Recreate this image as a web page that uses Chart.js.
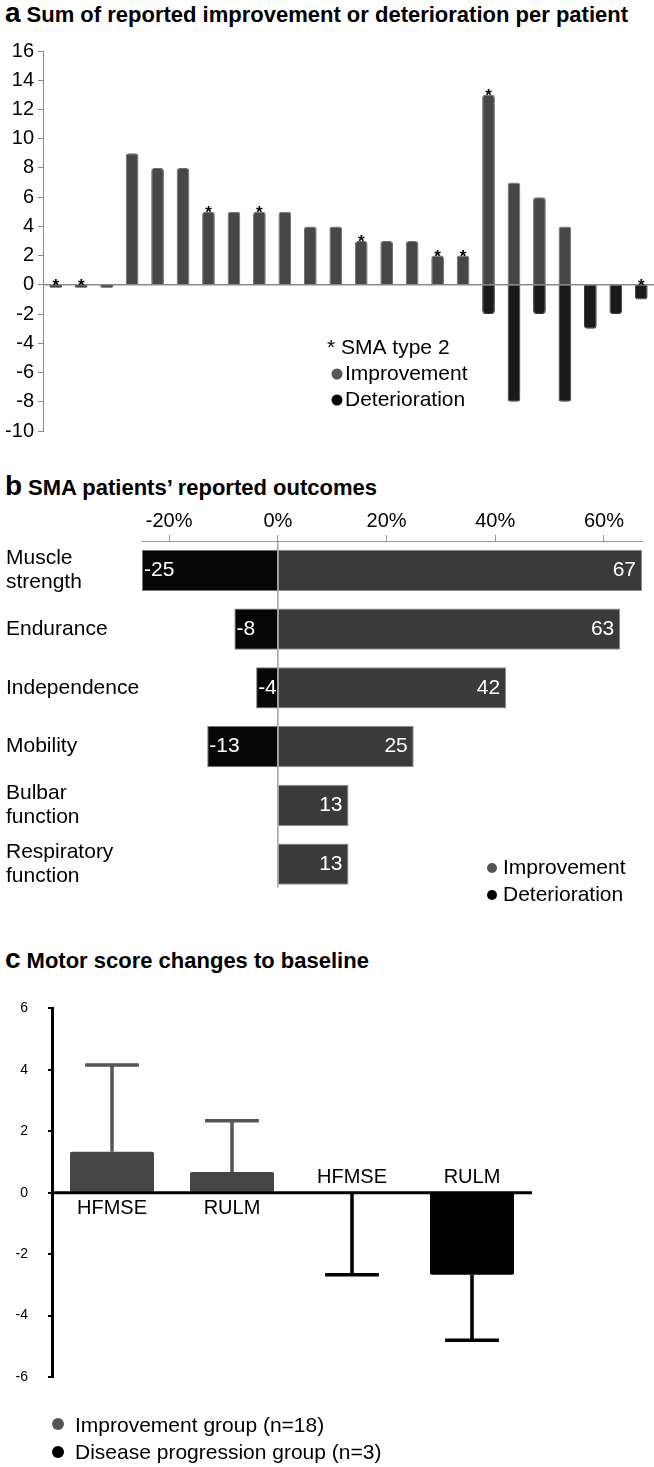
<!DOCTYPE html>
<html>
<head>
<meta charset="utf-8">
<script src="https://cdn.jsdelivr.net/npm/chart.js@4.4.1/dist/chart.umd.min.js"></script>
<style>
body { margin: 0; background: #fff; width: 654px; height: 1467px; position: relative; overflow: hidden;
       font-family: "Liberation Sans", Arial, sans-serif; }
.ttl { position: absolute; left: 5px; font-weight: bold; font-size: 22px; line-height: 26px; color: #000; white-space: nowrap; }
.ttl b { font-size: 28px; margin-right: 6px; }
canvas { position: absolute; left: 0; }
</style>
</head>
<body>
<div class="ttl" style="top:0px"><b>a</b>Sum of reported improvement or deterioration per patient</div>
<canvas id="chartA" width="654" height="430" style="top:30px"></canvas>
<div class="ttl" style="top:473px"><b>b</b>SMA patients’ reported outcomes</div>
<canvas id="chartB" width="654" height="420" style="top:500px"></canvas>
<div class="ttl" style="top:946px"><b>c</b>Motor score changes to baseline</div>
<canvas id="chartC" width="654" height="487" style="top:980px"></canvas>

<script>
// ---- panel a: per patient sums
var patientIds = ['1', '2', '3', '4', '5', '6', '7', '8', '9', '10', '11', '12',
                  '13', '14', '15', '16', '17', '18', '19', '20', '21', '22', '23', '24'];
var improvementSum = [0, 0, 0, 9, 8, 8, 5, 5, 5, 5, 4, 4, 3, 3, 3, 2, 2, 13, 7, 6, 4, 0, 0, 0];
var deteriorationSum = [-0.2, -0.2, -0.2, 0, 0, 0, 0, 0, 0, 0, 0, 0, 0, 0, 0, 0, 0, -2, -8, -2, -8, -3, -2, -1];
var smaType2 = [1, 1, 0, 0, 0, 0, 1, 0, 1, 0, 0, 0, 1, 0, 0, 1, 1, 1, 0, 0, 0, 0, 0, 1];

// ---- panel b: reported outcomes (%)
var outcomeLabels = [['Muscle', 'strength'], 'Endurance', 'Independence', 'Mobility',
                     ['Bulbar', 'function'], ['Respiratory', 'function']];
var improvementPct = [67, 63, 42, 25, 13, 13];
var deteriorationPct = [-25, -8, -4, -13, 0, 0];
var pctTicks = [-20, 0, 20, 40, 60];

// ---- panel c: motor scores
var motorLabels = ['HFMSE', 'RULM', 'HFMSE', 'RULM'];
var improvementMean = [1.33, 0.67, null, null];
var improvementSD = [2.83, 1.67, null, null];
var progressionMean = [null, null, 0, -2.67];
var progressionSD = [null, null, 2.67, 2.13];

var FONT = '"Liberation Sans", Arial, sans-serif';
Chart.defaults.font.family = FONT;
Chart.defaults.color = '#000';

function dot(ctx, x, y, r, color) {
  ctx.beginPath();
  ctx.arc(x, y, r, 0, Math.PI * 2);
  ctx.fillStyle = color;
  ctx.fill();
}

// panel a plugins
var zeroLineA = {
  id: 'zeroLineA',
  beforeDatasetsDraw: function (chart) {
    var ctx = chart.ctx, a = chart.chartArea, y = chart.scales.y.getPixelForValue(0);
    ctx.save();
    ctx.strokeStyle = '#8a8a8a';
    ctx.lineWidth = 1.5;
    ctx.beginPath();
    ctx.moveTo(a.left, y);
    ctx.lineTo(a.right, y);
    ctx.stroke();
    ctx.restore();
  }
};

var starsA = {
  id: 'starsA',
  afterDatasetsDraw: function (chart) {
    var ctx = chart.ctx, meta = chart.getDatasetMeta(0), ys = chart.scales.y;
    ctx.save();
    ctx.font = 'bold 17px ' + FONT;
    ctx.textAlign = 'center';
    ctx.fillStyle = '#000';
    for (var i = 0; i < smaType2.length; i++) {
      if (!smaType2[i]) continue;
      var top = ys.getPixelForValue(Math.max(improvementSum[i], 0));
      ctx.fillText('*', meta.data[i].x, top + 6);
    }
    ctx.restore();
  }
};

var legendA = {
  id: 'legendA',
  afterDraw: function (chart) {
    var ctx = chart.ctx;
    ctx.save();
    ctx.font = '21px ' + FONT;
    ctx.textBaseline = 'middle';
    ctx.fillStyle = '#000';
    ctx.fillText('* SMA type 2', 327, 318);
    dot(ctx, 337, 344, 5.5, '#555');
    dot(ctx, 337, 370, 5.5, '#000');
    ctx.fillStyle = '#000';
    ctx.fillText('Improvement', 345, 344);
    ctx.fillText('Deterioration', 345, 370);
    ctx.restore();
  }
};

new Chart(document.getElementById('chartA'), {
  type: 'bar',
  data: {
    labels: patientIds,
    datasets: [
      { label: 'Improvement', data: improvementSum, backgroundColor: '#474747',
        borderColor: '#6e6e6e', borderWidth: 1, borderRadius: 3, barPercentage: 0.5, categoryPercentage: 1 },
      { label: 'Deterioration', data: deteriorationSum, backgroundColor: '#1a1a1a',
        borderColor: '#3a3a3a', borderWidth: 1, borderRadius: 3, barPercentage: 0.5, categoryPercentage: 1 }
    ]
  },
  options: {
    responsive: false,
    animation: false,
    layout: { padding: { top: 21, bottom: 29, left: 0, right: 0 } },
    plugins: { legend: { display: false }, tooltip: { enabled: false } },
    scales: {
      x: { display: false, stacked: true },
      y: {
        stacked: true, min: -10, max: 16,
        afterFit: function (s) { s.width = 43; },
        ticks: { stepSize: 2, font: { size: 20 }, color: '#000', padding: 4 },
        grid: { drawOnChartArea: false, tickLength: 5, color: '#888' },
        border: { color: '#888', width: 1 }
      }
    }
  },
  plugins: [zeroLineA, starsA, legendA]
});

// panel b plugins
var zeroLineB = {
  id: 'zeroLineB',
  afterDatasetsDraw: function (chart) {
    var ctx = chart.ctx, a = chart.chartArea, x = chart.scales.x.getPixelForValue(0);
    ctx.save();
    ctx.strokeStyle = '#8a8a8a';
    ctx.lineWidth = 1.2;
    ctx.beginPath();
    ctx.moveTo(x, a.top);
    ctx.lineTo(x, a.bottom - 6);
    ctx.stroke();
    ctx.restore();
  }
};

var valuesB = {
  id: 'valuesB',
  afterDraw: function (chart) {
    var ctx = chart.ctx;
    ctx.save();
    ctx.font = '21px ' + FONT;
    ctx.fillStyle = '#fff';
    ctx.textBaseline = 'middle';
    var det = chart.getDatasetMeta(0), imp = chart.getDatasetMeta(1);
    for (var i = 0; i < outcomeLabels.length; i++) {
      if (deteriorationPct[i] !== 0) {
        ctx.textAlign = 'left';
        ctx.fillText(String(deteriorationPct[i]), det.data[i].x + 2, det.data[i].y);
      }
      ctx.textAlign = 'right';
      ctx.fillText(String(improvementPct[i]), imp.data[i].x - 6, imp.data[i].y);
    }
    ctx.restore();
  }
};

var legendB = {
  id: 'legendB',
  afterDraw: function (chart) {
    var ctx = chart.ctx;
    ctx.save();
    ctx.font = '21px ' + FONT;
    ctx.textBaseline = 'middle';
    dot(ctx, 492, 368, 5, '#555');
    dot(ctx, 492, 395, 5, '#000');
    ctx.fillStyle = '#000';
    ctx.fillText('Improvement', 503, 368);
    ctx.fillText('Deterioration', 503, 395);
    ctx.restore();
  }
};

new Chart(document.getElementById('chartB'), {
  type: 'bar',
  data: {
    labels: outcomeLabels,
    datasets: [
      { label: 'Deterioration', data: deteriorationPct, backgroundColor: '#060606',
        borderColor: '#777', borderWidth: 1, barPercentage: 0.7, categoryPercentage: 1 },
      { label: 'Improvement', data: improvementPct, backgroundColor: '#3a3a3a',
        borderColor: '#8a8a8a', borderWidth: 1, barPercentage: 0.7, categoryPercentage: 1 }
    ]
  },
  options: {
    indexAxis: 'y',
    responsive: false,
    animation: false,
    layout: { padding: { top: 7, bottom: 9, left: 6, right: 12 } },
    plugins: { legend: { display: false }, tooltip: { enabled: false } },
    scales: {
      x: {
        position: 'top', stacked: true, min: -25, max: 67,
        afterBuildTicks: function (s) {
          s.ticks = pctTicks.map(function (v) { return { value: v }; });
        },
        ticks: { font: { size: 20 }, color: '#000', padding: 2,
                 callback: function (v) { return v + '%'; } },
        grid: { drawOnChartArea: false, tickLength: 6, color: '#999' },
        border: { color: '#999', width: 1 }
      },
      y: {
        stacked: true,
        afterFit: function (s) { s.width = 136; },
        ticks: { crossAlign: 'far', font: { size: 21, lineHeight: 1.12 }, color: '#000' },
        grid: { display: false },
        border: { display: false }
      }
    }
  },
  plugins: [zeroLineB, valuesB, legendB]
});

// panel c plugins
var axisC = {
  id: 'axisC',
  afterDatasetsDraw: function (chart) {
    var ctx = chart.ctx, a = chart.chartArea, ys = chart.scales.y, y0 = ys.getPixelForValue(0);
    ctx.save();
    // error bars
    var sets = [[improvementMean, improvementSD, 1, '#555'], [progressionMean, progressionSD, -1, '#000']];
    sets.forEach(function (s, d) {
      var meta = chart.getDatasetMeta(d);
      for (var i = 0; i < motorLabels.length; i++) {
        if (s[0][i] === null) continue;
        var el = meta.data[i];
        var yA = ys.getPixelForValue(s[0][i]);
        var yB = ys.getPixelForValue(s[0][i] + s[2] * s[1][i]);
        var half = el.width * 0.32;
        ctx.strokeStyle = s[3];
        ctx.lineWidth = 3.5;
        ctx.beginPath();
        ctx.moveTo(el.x, yA);
        ctx.lineTo(el.x, yB);
        ctx.moveTo(el.x - half, yB);
        ctx.lineTo(el.x + half, yB);
        ctx.stroke();
      }
    });
    // zero line
    ctx.strokeStyle = '#000';
    ctx.lineWidth = 3;
    ctx.beginPath();
    ctx.moveTo(a.left, y0);
    ctx.lineTo(a.right, y0);
    ctx.stroke();
    // category labels, opposite side of the bar
    ctx.font = '20px ' + FONT;
    ctx.fillStyle = '#000';
    ctx.textAlign = 'center';
    ctx.textBaseline = 'middle';
    var meta0 = chart.getDatasetMeta(0), meta1 = chart.getDatasetMeta(1);
    for (var i = 0; i < motorLabels.length; i++) {
      var up = improvementMean[i] !== null && improvementMean[i] > 0;
      var el = up ? meta0.data[i] : meta1.data[i];
      ctx.fillText(motorLabels[i], el.x, up ? y0 + 16 : y0 - 15);
    }
    ctx.restore();
  }
};

var legendC = {
  id: 'legendC',
  afterDraw: function (chart) {
    var ctx = chart.ctx;
    ctx.save();
    ctx.font = '21px ' + FONT;
    ctx.textBaseline = 'middle';
    dot(ctx, 58, 444, 6, '#555');
    dot(ctx, 58, 472, 6, '#000');
    ctx.fillStyle = '#000';
    ctx.fillText('Improvement group (n=18)', 75, 446);
    ctx.fillText('Disease progression group (n=3)', 75, 473);
    ctx.restore();
  }
};

new Chart(document.getElementById('chartC'), {
  type: 'bar',
  data: {
    labels: motorLabels,
    datasets: [
      { label: 'Improvement group (n=18)', data: improvementMean, backgroundColor: '#454545',
        borderRadius: 2, grouped: false, barPercentage: 1, categoryPercentage: 0.7 },
      { label: 'Disease progression group (n=3)', data: progressionMean, backgroundColor: '#000',
        borderRadius: 2, grouped: false, barPercentage: 1, categoryPercentage: 0.7 }
    ]
  },
  options: {
    responsive: false,
    animation: false,
    layout: { padding: { top: 26, bottom: 90, left: 0, right: 122 } },
    plugins: { legend: { display: false }, tooltip: { enabled: false } },
    scales: {
      x: { display: false },
      y: {
        min: -6, max: 6,
        afterFit: function (s) { s.width = 52; },
        ticks: { stepSize: 2, font: { size: 14 }, color: '#000', padding: 20 },
        grid: { drawOnChartArea: false, tickLength: 4, color: '#000', lineWidth: 2 },
        border: { color: '#000', width: 3 }
      }
    }
  },
  plugins: [axisC, legendC]
});
</script>
</body>
</html>
